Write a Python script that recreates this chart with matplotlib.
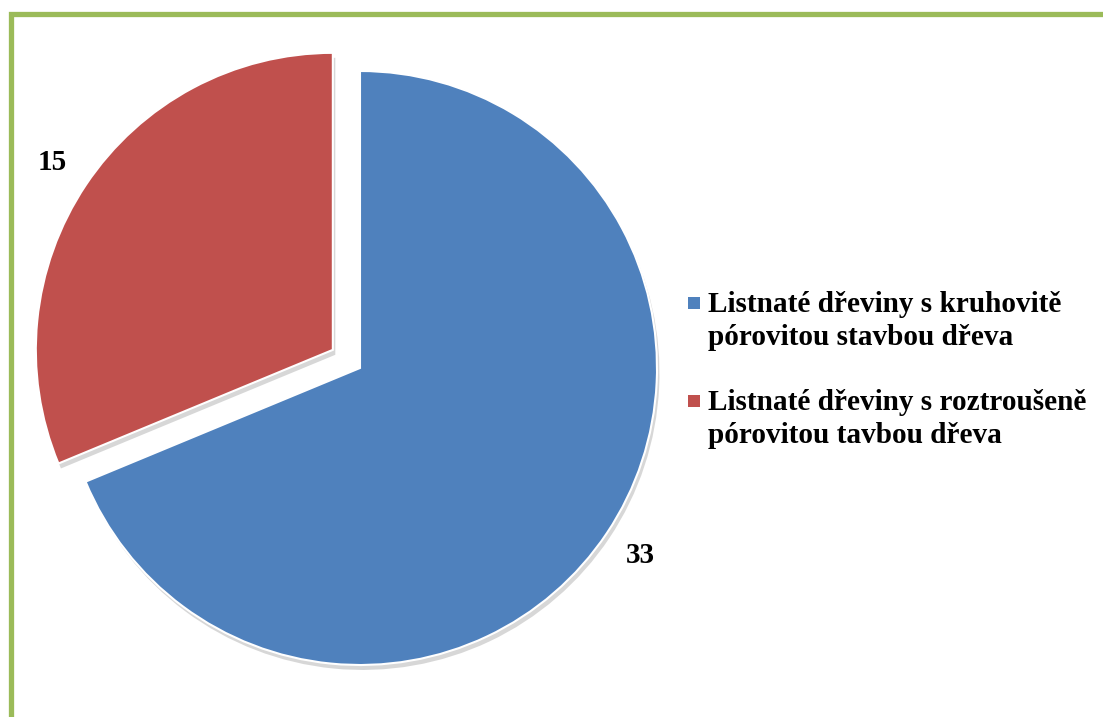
import matplotlib
matplotlib.use("Agg")
import matplotlib.pyplot as plt
from matplotlib.patches import Rectangle

plt.rcParams["font.family"] = ["Liberation Serif", "DejaVu Serif"]

categories = [
    "Listnaté dřeviny s kruhovitě\npórovitou stavbou dřeva",
    "Listnaté dřeviny s roztroušeně\npórovitou tavbou dřeva",
]
values = [33, 15]
colors = ["#4F81BD", "#C0504D"]
explode = [0, 0.11]

W, H = 1103, 717
fig = plt.figure(figsize=(W / 100, H / 100), dpi=100)

# pie axes: left part of the figure, 297 px per data unit
R_PX = 297
cx, cy = 360, 368
ax_w = 720
ax = fig.add_axes([0, 0, ax_w / W, 1])
wedges, texts = ax.pie(
    values, labels=[str(v) for v in values], colors=colors, explode=explode,
    startangle=90, counterclock=False, labeldistance=1.137,
    wedgeprops=dict(edgecolor="white", linewidth=1.5),
    shadow=dict(ox=0.006, oy=-0.012, facecolor="#bdbdbd", edgecolor="none", alpha=0.6),
    textprops=dict(fontsize=21, fontweight="bold", color="black"),
)
for t in texts:
    t.set_ha("center")
ax.set_xlim(-cx / R_PX, (ax_w - cx) / R_PX)
ax.set_ylim((cy - H) / R_PX, cy / R_PX)
ax.set_aspect("auto")
ax.axis("off")

# legend drawn by hand so the square sits on the first text line
first_base = [311, 409]   # baseline of the first line, px from top
line_gap = 34
for lab, col, y in zip(categories, colors, first_base):
    fig.patches.append(Rectangle((688 / W, 1 - (y - 2) / H), 12 / W, 12 / H,
                                 transform=fig.transFigure, facecolor=col,
                                 edgecolor="none"))
    # multi-line text with va="baseline" anchors the last line
    fig.text(708 / W, 1 - (y + line_gap) / H, lab, fontsize=21.1,
             fontweight="bold", ha="left", va="baseline", linespacing=1.29)

# green frame, right and bottom edges fall outside the figure
fig.patches.append(Rectangle((10.5 / W, -0.1), 1.2, 1.1 - 13.5 / H,
                             transform=fig.transFigure, fill=False,
                             edgecolor="#9BBB59", linewidth=3.8))

fig.savefig("out.png", dpi=100)
